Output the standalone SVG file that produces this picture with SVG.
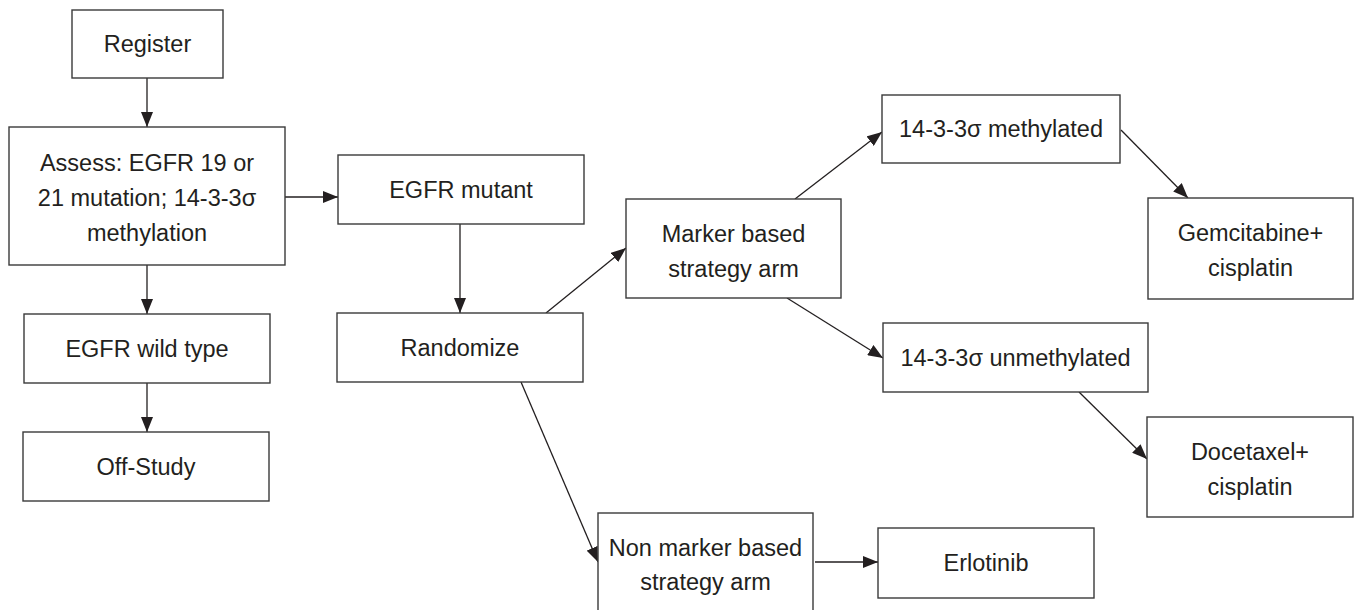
<svg xmlns="http://www.w3.org/2000/svg" width="1356" height="610" viewBox="0 0 1356 610">
  <style>
    .box { fill: #ffffff; stroke: #3a3a3a; stroke-width: 1.4; }
    .lbl { font-family: "Liberation Sans", Arial, Helvetica, sans-serif; font-size: 23.5px; fill: #231f20; text-anchor: middle; }
    .edge { stroke: #231f20; stroke-width: 1.3; fill: none; marker-end: url(#head); }
  </style>
  <defs>
    <marker id="head" markerUnits="userSpaceOnUse" markerWidth="15" markerHeight="12" refX="15" refY="6" orient="auto">
      <path d="M0,0 L15,6 L0,12 z" fill="#231f20"/>
    </marker>
  </defs>
  <rect width="1356" height="610" fill="#ffffff"/>

  <g id="connectors">
    <line class="edge" x1="147" y1="78" x2="147" y2="127"/>
    <line class="edge" x1="147" y1="265" x2="147" y2="314"/>
    <line class="edge" x1="147" y1="383" x2="147" y2="432"/>
    <line class="edge" x1="285" y1="197" x2="338" y2="197"/>
    <line class="edge" x1="460" y1="224" x2="460" y2="313"/>
    <line class="edge" x1="546" y1="313" x2="626" y2="248"/>
    <line class="edge" x1="521" y1="382" x2="598" y2="562"/>
    <line class="edge" x1="795" y1="199" x2="882" y2="132"/>
    <line class="edge" x1="787" y1="298" x2="883" y2="358"/>
    <line class="edge" x1="815" y1="562" x2="878" y2="562"/>
    <line class="edge" x1="1121" y1="130" x2="1188" y2="198"/>
    <line class="edge" x1="1079" y1="392" x2="1147" y2="459"/>
  </g>

  <g id="register">
    <rect class="box" x="72" y="10" width="151" height="68"/>
    <text class="lbl" x="147.5" y="52">Register</text>
  </g>
  <g id="assess">
    <rect class="box" x="9" y="127" width="276" height="138"/>
    <text class="lbl" x="147" y="171">Assess: EGFR 19 or</text>
    <text class="lbl" x="147" y="206">21 mutation; 14-3-3σ</text>
    <text class="lbl" x="147" y="241">methylation</text>
  </g>
  <g id="wild-type">
    <rect class="box" x="24" y="314" width="246" height="69"/>
    <text class="lbl" x="147" y="357">EGFR wild type</text>
  </g>
  <g id="off-study">
    <rect class="box" x="23" y="432" width="246" height="69"/>
    <text class="lbl" x="146" y="475">Off-Study</text>
  </g>
  <g id="mutant">
    <rect class="box" x="338" y="155" width="246" height="69"/>
    <text class="lbl" x="461" y="198">EGFR mutant</text>
  </g>
  <g id="randomize">
    <rect class="box" x="337" y="313" width="246" height="69"/>
    <text class="lbl" x="460" y="356">Randomize</text>
  </g>
  <g id="marker-arm">
    <rect class="box" x="626" y="199" width="215" height="99"/>
    <text class="lbl" x="733.5" y="242">Marker based</text>
    <text class="lbl" x="733.5" y="277">strategy arm</text>
  </g>
  <g id="methylated">
    <rect class="box" x="882" y="95" width="238" height="68"/>
    <text class="lbl" x="1001" y="137">14-3-3σ methylated</text>
  </g>
  <g id="gemcitabine">
    <rect class="box" x="1148" y="198" width="205" height="101"/>
    <text class="lbl" x="1250.5" y="241">Gemcitabine+</text>
    <text class="lbl" x="1250.5" y="276">cisplatin</text>
  </g>
  <g id="unmethylated">
    <rect class="box" x="883" y="323" width="265" height="69"/>
    <text class="lbl" x="1015.5" y="366">14-3-3σ unmethylated</text>
  </g>
  <g id="docetaxel">
    <rect class="box" x="1147" y="417" width="206" height="100"/>
    <text class="lbl" x="1250" y="460">Docetaxel+</text>
    <text class="lbl" x="1250" y="495">cisplatin</text>
  </g>
  <g id="non-marker-arm">
    <rect class="box" x="598" y="513" width="215" height="100"/>
    <text class="lbl" x="705.5" y="556">Non marker based</text>
    <text class="lbl" x="705.5" y="590">strategy arm</text>
  </g>
  <g id="erlotinib">
    <rect class="box" x="878" y="528" width="216" height="70"/>
    <text class="lbl" x="986" y="571">Erlotinib</text>
  </g>
</svg>
